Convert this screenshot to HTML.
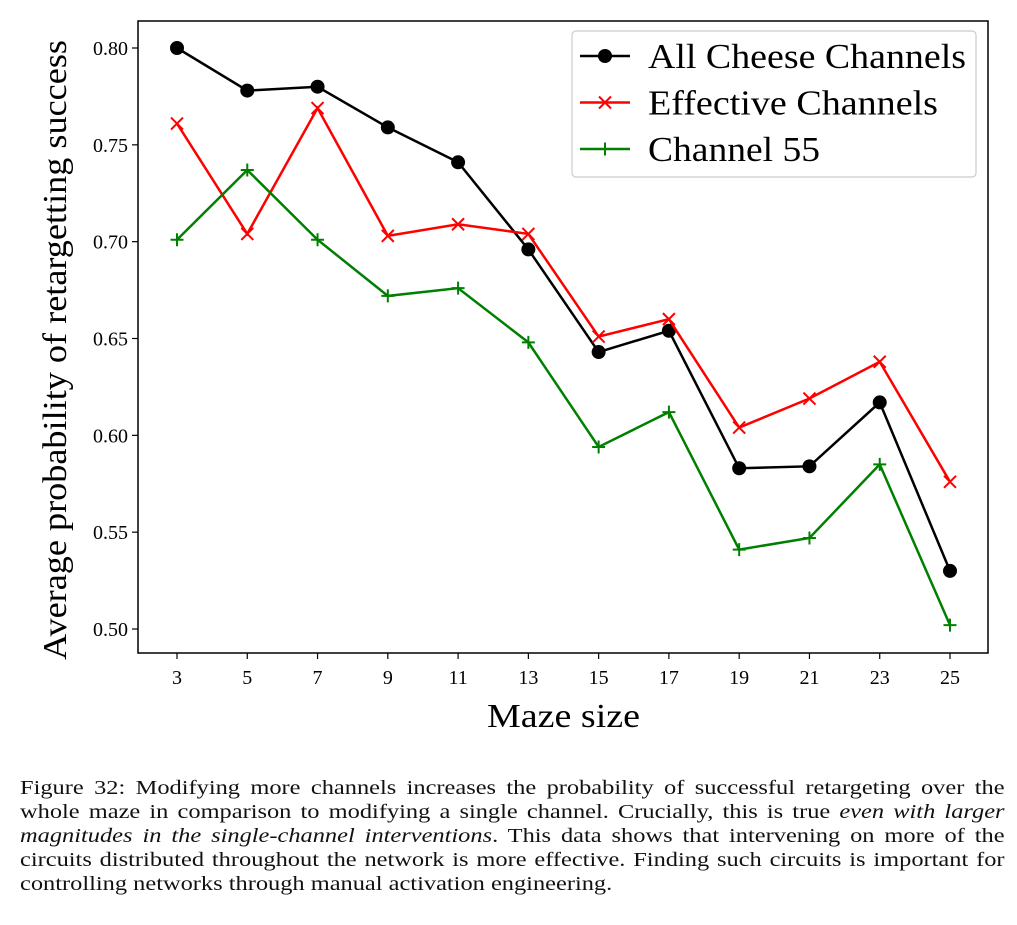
<!DOCTYPE html>
<html><head><meta charset="utf-8"><style>
body{margin:0;background:#fff;width:1017px;height:925px;overflow:hidden;font-family:"Liberation Serif",serif}
#cap{position:absolute;left:20px;top:776px;width:807px;font-size:20px;line-height:24px;color:#111;transform:scaleX(1.22);transform-origin:0 0}
#cap .l{display:block;text-align:justify;text-align-last:justify;white-space:nowrap}
#cap .last{text-align-last:left}
</style></head><body>
<svg id="chart" width="1017" height="760" style="position:absolute;left:0;top:0" font-family="Liberation Serif, serif"></svg>
<div id="cap">
<span class="l">Figure 32: Modifying more channels increases the probability of successful retargeting over the</span>
<span class="l">whole maze in comparison to modifying a single channel. Crucially, this is true <i>even with larger</i></span>
<span class="l"><i>magnitudes in the single-channel interventions</i>. This data shows that intervening on more of the</span>
<span class="l">circuits distributed throughout the network is more effective. Finding such circuits is important for</span>
<span class="l last">controlling networks through manual activation engineering.</span>
</div>
<script>
const categories=[3,5,7,9,11,13,15,17,19,21,23,25];
const allCheese=[0.800,0.778,0.780,0.759,0.741,0.696,0.643,0.654,0.583,0.584,0.617,0.530];
const effective=[0.761,0.704,0.769,0.703,0.709,0.704,0.651,0.660,0.604,0.619,0.638,0.576];
const channel55=[0.701,0.737,0.701,0.672,0.676,0.648,0.594,0.612,0.541,0.547,0.585,0.502];
const yTicks=[0.50,0.55,0.60,0.65,0.70,0.75,0.80];
const seriesNames=["All Cheese Channels","Effective Channels","Channel 55"];
const NS="http://www.w3.org/2000/svg";
const svg=document.getElementById('chart');
const L=138,R=988,T=21,B=653;
const x=v=>177+(v-3)*(950-177)/22;
const y=v=>629-(v-0.5)*(629-48)/0.3;
function mk(t,a,p){const e=document.createElementNS(NS,t);for(const k in a)e.setAttribute(k,a[k]);(p||svg).appendChild(e);return e;}
const frame=mk('rect',{x:L,y:T,width:R-L,height:B-T,fill:'none',stroke:'#000','stroke-width':1.5});


categories.forEach(c=>{
  const t=mk('line',{x1:x(c),x2:x(c),y1:B,y2:B+6,stroke:'#000','stroke-width':1.2});
  
  
  const l=mk('text',{x:x(c),y:B+31,'text-anchor':'middle','font-size':20});l.textContent=c;
  
  
});
yTicks.forEach(v=>{
  const t=mk('line',{x1:L-6,x2:L,y1:y(v),y2:y(v),stroke:'#000','stroke-width':1.2});
  
  
  const l=mk('text',{x:L-10,y:y(v)+7,'text-anchor':'end','font-size':20});l.textContent=v.toFixed(2);
  
  
});
const xt=mk('text',{x:487,y:727,'font-size':34,textLength:153,lengthAdjust:'spacingAndGlyphs'});xt.textContent='Maze size';


const yt=mk('text',{x:0,y:0,'font-size':34,textLength:620,lengthAdjust:'spacingAndGlyphs',transform:'translate(66,660) rotate(-90)'});yt.textContent='Average probability of retargetting success';


function marker(g,type,cx,cy,col){
  if(type==='o')mk('circle',{cx,cy,r:7,fill:col},g);
  else if(type==='x'){mk('path',{d:`M${cx-6},${cy-6}L${cx+6},${cy+6}M${cx-6},${cy+6}L${cx+6},${cy-6}`,stroke:col,'stroke-width':2},g);}
  else mk('path',{d:`M${cx-6.5},${cy}H${cx+6.5}M${cx},${cy-6.5}V${cy+6.5}`,stroke:col,'stroke-width':2},g);
}
const series=[[allCheese,'#000','o','all-cheese'],[effective,'#ff0000','x','effective'],[channel55,'#008000','+','channel-55']];
series.forEach(([d,col,m,n])=>{
  const g=mk('g',{});
  
  
  mk('polyline',{points:d.map((v,i)=>x(categories[i])+','+y(v)).join(' '),fill:'none',stroke:col,'stroke-width':2.5},g);
  d.forEach((v,i)=>marker(g,m,x(categories[i]),y(v),col));
});
const legendWidths=[318,290,172];
const lg=mk('g',{});


mk('rect',{x:572,y:31,width:404,height:146,rx:4,fill:'#fff',stroke:'#ccc','stroke-width':1.2},lg);
series.forEach(([d,col,m,n],i)=>{
  const cy=56+i*46.5;
  const e=mk('g',{},lg);
  
  
  mk('line',{x1:580,x2:630,y1:cy,y2:cy,stroke:col,'stroke-width':2.5},e);
  marker(e,m,605,cy,col);
  const t=mk('text',{x:648,y:cy+12,'font-size':35,textLength:legendWidths[i],lengthAdjust:'spacingAndGlyphs'},e);t.textContent=seriesNames[i];
});
</script>
</body></html>
